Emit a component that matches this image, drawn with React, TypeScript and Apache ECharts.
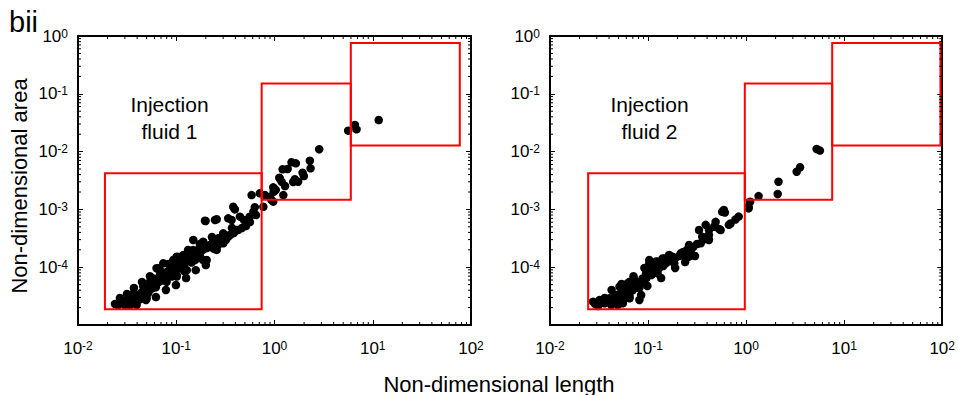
import React, { useEffect, useRef } from "react";
import * as echarts from "echarts";

const FONT = '"Liberation Sans", Arial, Helvetica, sans-serif';

const X_MIN = 0.01;
const X_MAX = 100;
const Y_MIN = 1e-5;
const Y_MAX = 1;

const PANEL_TITLES = ["Injection\nfluid 1", "Injection\nfluid 2"];
const X_AXIS_NAME = "Non-dimensional length";
const Y_AXIS_NAME = "Non-dimensional area";
const FIGURE_TAG = "bii";

const MINOR_MULT = [2, 3, 4, 5, 6, 7, 8, 9];
const X_DECADES = [0.01, 0.1, 1, 10];
const Y_DECADES = [1e-5, 1e-4, 1e-3, 1e-2, 1e-1];

// [x1, y1, x2, y2]
const BOXES_1 = [
  [0.0188, 1.87e-5, 0.74, 0.00421],
  [0.74, 0.00147, 5.98, 0.15],
  [5.98, 0.0127, 76.9, 0.757],
];
const BOXES_2 = [
  [0.0245, 1.87e-5, 0.97, 0.00421],
  [0.97, 0.00147, 7.55, 0.15],
  [7.55, 0.0127, 96, 0.757],
];

const FLUID1 = [
  [11.5, 0.0352], [6.58, 0.0289], [6.84, 0.0243], [5.62, 0.023], [2.85, 0.011],
  [1.49, 0.00653], [1.65, 0.00627], [2.29, 0.00696], [2.33, 0.00514], [1.21, 0.00494],
  [1.36, 0.005], [1.93, 0.00431], [1.99, 0.00378], [1.61, 0.00332], [1.55, 0.00298],
  [1.12, 0.00353], [1.18, 0.00301], [1.28, 0.00254], [0.97, 0.00241], [1.03, 0.00217],
  [1.23, 0.00177], [0.9, 0.00166], [0.8, 0.00177], [0.585, 0.00177], [0.71, 0.0019],
  [0.97, 0.00136], [0.77, 0.00111], [0.63, 0.00109],
  [1.74, 0.00301], [0.99, 0.00232], [0.93, 0.00146], [0.61, 0.000912], [0.56, 0.000748],
  [0.445, 0.000748], [0.395, 0.001], [0.366, 0.000656], [0.338, 0.000701], [0.411, 0.00044],
  [0.258, 0.000674], [0.196, 0.000637], [0.301, 0.000385], [0.267, 0.000316], [0.338, 0.000337],
  [0.238, 0.000276], [0.188, 0.000276], [0.149, 0.000296], [0.22, 0.000226], [0.167, 0.000199],
  [0.138, 0.000185], [0.118, 0.000163], [0.105, 0.000148],
  [0.0238, 2.31e-5], [0.0267, 2.53e-5], [0.03, 2.22e-5], [0.0338, 2.22e-5], [0.0395, 2.22e-5],
  [0.0325, 2.9e-5], [0.0366, 3.53e-5], [0.0428, 3.3e-5], [0.0462, 4.6e-5], [0.0519, 4.0e-5],
  [0.054, 5.6e-5], [0.0583, 6.4e-5], [0.0656, 9.6e-5], [0.0682, 7.3e-5], [0.0767, 7.8e-5],
  [0.0863, 8.9e-5], [0.101, 6.9e-5], [0.109, 1.02e-4], [0.118, 1.25e-4], [0.132, 1.63e-4],
  [0.155, 1.33e-4], [0.174, 1.99e-4], [0.204, 1.33e-4], [0.22, 2.42e-4], [0.258, 1.99e-4],
  [0.301, 2.59e-4], [0.041, 2.7e-5], [0.05, 2.9e-5], [0.0607, 4.9e-5], [0.0798, 5.6e-5],
  [0.0897, 6.9e-5], [0.0738, 1.17e-4], [0.0933, 1.33e-4], [0.128, 8.9e-5],
  [0.199, 6.3e-4], [0.248, 6.56e-4], [0.38, 1.11e-3], [0.98, 2.02e-3], [0.063, 9.6e-5],
  [0.101, 1.52e-4], [0.188, 1.33e-4], [0.122, 8.4e-5], [0.101, 7.3e-5], [0.149, 1.99e-4],
  [0.279, 2.96e-4], [1.13, 3.45e-3],
  [0.0281, 2.4e-5], [0.0315, 2.71e-5], [0.0354, 2.82e-5], [0.038, 3.18e-5], [0.0408, 3.05e-5],
  [0.0438, 3.58e-5], [0.0469, 3.72e-5], [0.0503, 4.37e-5], [0.054, 4.2e-5], [0.0566, 5.12e-5],
  [0.0607, 5.33e-5], [0.0637, 6.0e-5], [0.0682, 6.25e-5], [0.0716, 7.0e-5], [0.0767, 6.8e-5],
  [0.0804, 8.3e-5], [0.0863, 7.9e-5], [0.0904, 9.7e-5], [0.097, 8.9e-5], [0.104, 1.09e-4],
  [0.109, 1.23e-4], [0.117, 1.14e-4], [0.126, 1.33e-4], [0.138, 1.44e-4], [0.148, 1.56e-4],
  [0.162, 1.69e-4], [0.174, 1.63e-4], [0.187, 1.99e-4], [0.205, 2.15e-4], [0.225, 2.23e-4],
  [0.242, 2.07e-4], [0.265, 2.42e-4], [0.292, 2.84e-4], [0.32, 2.96e-4], [0.352, 3.6e-4],
  [0.386, 3.91e-4], [0.425, 4.4e-4], [0.466, 4.77e-4], [0.512, 5.16e-4], [0.562, 6.05e-4],
  [0.489, 6.56e-4], [0.647, 8.0e-4], [0.369, 4.77e-4], [0.231, 3.33e-4], [0.174, 2.52e-4],
  [0.132, 1.99e-4], [0.104, 1.5e-4], [0.0824, 1.14e-4], [0.0682, 8.9e-5], [0.054, 7.0e-5],
  [0.0448, 5.55e-5], [0.0371, 4.37e-5], [0.0315, 3.44e-5], [0.0267, 2.93e-5], [0.0492, 2.71e-5],
  [0.0621, 3.05e-5], [0.0785, 4.04e-5], [0.0993, 4.92e-5], [0.126, 6.5e-5], [0.158, 8.9e-5],
  [0.2, 1.09e-4],
  [0.0255, 2.2e-5], [0.029, 2.6e-5], [0.033, 2.5e-5], [0.036, 2.4e-5], [0.039, 2.6e-5],
  [0.043, 2.8e-5], [0.045, 3.1e-5], [0.048, 3.4e-5], [0.052, 3.6e-5], [0.057, 4.3e-5],
  [0.062, 4.5e-5], [0.066, 5.5e-5], [0.071, 5.9e-5], [0.075, 6.3e-5], [0.085, 7.4e-5],
  [0.094, 8.1e-5], [0.113, 9.5e-5], [0.12, 1.05e-4], [0.143, 1.2e-4], [0.168, 1.45e-4],
];

const FLUID2 = [
  [5.66, 0.0104], [5.24, 0.0111], [3.55, 0.00535], [3.28, 0.00449], [2.14, 0.00301],
  [2.1, 0.00185], [1.34, 0.0017], [1.1, 0.00136], [1.06, 0.00104], [0.84, 0.00075],
  [0.78, 0.00067], [0.593, 0.00098], [0.607, 0.00088], [0.667, 0.00054], [0.55, 0.00044],
  [0.489, 0.00061], [0.47, 0.0005], [0.387, 0.00054], [0.418, 0.00044], [0.331, 0.00044],
  [0.357, 0.000337], [0.344, 0.000259], [0.418, 0.000296], [0.262, 0.000226], [0.273, 0.000174],
  [0.224, 0.000163], [0.178, 0.000152], [0.146, 0.000142], [0.12, 0.000125],
  [0.0275, 2.53e-5], [0.0309, 2.13e-5], [0.036, 2.37e-5], [0.0421, 2.22e-5], [0.0492, 2.22e-5],
  [0.0553, 2.37e-5], [0.0406, 2.9e-5], [0.0475, 3.3e-5], [0.0512, 4.6e-5], [0.062, 5.3e-5],
  [0.0575, 3.5e-5], [0.0727, 6.0e-5], [0.0698, 4.0e-5], [0.085, 3.3e-5], [0.0918, 5.3e-5],
  [0.0955, 7.8e-5], [0.103, 1.17e-4], [0.116, 1.02e-4], [0.125, 7.8e-5], [0.141, 1.42e-4],
  [0.164, 1.63e-4], [0.185, 1.17e-4], [0.216, 1.74e-4], [0.262, 2.42e-4], [0.283, 1.63e-4],
  [0.0347, 2.7e-5], [0.0456, 2.7e-5], [0.0532, 3.1e-5], [0.0785, 4.6e-5], [0.0647, 2.9e-5],
  [0.099, 1.0e-4], [0.065, 5.6e-5], [0.125, 1.25e-4], [0.103, 1.33e-4], [0.178, 1.33e-4],
  [0.262, 1.52e-4], [0.418, 3.6e-4], [0.693, 5.7e-4], [1.06, 1.11e-3], [0.57, 9.1e-4],
  [0.53, 4.6e-4],
  [0.0321, 2.71e-5], [0.0361, 2.93e-5], [0.0406, 2.5e-5], [0.0456, 3.18e-5], [0.0512, 3.44e-5],
  [0.0575, 4.04e-5], [0.0617, 3.72e-5], [0.0677, 4.73e-5], [0.0743, 5.12e-5], [0.0816, 4.37e-5],
  [0.0875, 6.0e-5], [0.0962, 6.5e-5], [0.108, 7.3e-5], [0.116, 8.9e-5], [0.13, 9.7e-5],
  [0.143, 1.05e-4], [0.157, 1.23e-4], [0.172, 1.33e-4], [0.189, 1.44e-4], [0.208, 1.56e-4],
  [0.228, 1.83e-4], [0.25, 1.99e-4], [0.288, 2.23e-4], [0.316, 2.52e-4], [0.363, 2.96e-4],
  [0.0425, 4.04e-5], [0.0536, 5.12e-5], [0.071, 7.0e-5], [0.0918, 9.7e-5], [0.0489, 2.71e-5],
  [0.0647, 3.18e-5], [0.0984, 4.73e-5], [0.136, 6.5e-5], [0.189, 9.7e-5], [0.239, 1.23e-4],
  [0.301, 1.56e-4], [0.0816, 2.71e-5],
  [0.029, 2.3e-5], [0.033, 2.4e-5], [0.038, 2.6e-5], [0.044, 2.5e-5], [0.052, 2.6e-5],
  [0.058, 2.9e-5], [0.06, 3.3e-5], [0.066, 4.2e-5], [0.074, 4.4e-5], [0.079, 5.4e-5],
  [0.088, 6.4e-5], [0.1, 8.2e-5], [0.11, 8.4e-5], [0.123, 9.8e-5], [0.15, 1.15e-4],
  [0.165, 1.3e-4],
];

const PANELS = [
  { data: FLUID1, boxes: BOXES_1, title: PANEL_TITLES[0] },
  { data: FLUID2, boxes: BOXES_2, title: PANEL_TITLES[1] },
];

const GRIDS = [
  { left: 78, top: 36, width: 393, height: 289 },
  { left: 550, top: 36, width: 394, height: 289 },
];

const TITLE_POS = [
  { x: 169.5, y: 118 },
  { x: 649.5, y: 118 },
];

const MINOR_X = X_DECADES.flatMap((d) => MINOR_MULT.map((m) => +(m * d).toPrecision(3)));
const MINOR_Y = Y_DECADES.flatMap((d) => MINOR_MULT.map((m) => +(m * d).toPrecision(3)));

function expLabel(v: number, skipBottom: boolean) {
  const e = Math.round(Math.log10(v));
  if (skipBottom && e === -5) return "";
  return `{b|10}{s|${e}}`;
}

const RICH = {
  b: { fontSize: 17, fontFamily: FONT, color: "#000" },
  s: { fontSize: 12, fontFamily: FONT, color: "#000", verticalAlign: "top" },
};

export default function App() {
  const ref = useRef<HTMLDivElement>(null);

  useEffect(() => {
    if (!ref.current) return;
    const chart = echarts.init(ref.current, undefined, { renderer: "svg" });

    const xAxes: any[] = [];
    const yAxes: any[] = [];
    const series: any[] = [];

    const axisLine = { show: true, onZero: false, lineStyle: { color: "#000", width: 2 } };
    const axisTick = { show: true, inside: true, length: 5, lineStyle: { color: "#000", width: 1 } };

    PANELS.forEach((p, i) => {
      xAxes.push({
        type: "log", logBase: 10, min: X_MIN, max: X_MAX, gridIndex: i, position: "bottom",
        axisLine, axisTick, splitLine: { show: false },
        axisLabel: { margin: 15, fontSize: 17, formatter: (v: number) => expLabel(v, false), rich: RICH },
      });
      xAxes.push({
        type: "log", logBase: 10, min: X_MIN, max: X_MAX, gridIndex: i, position: "top",
        axisLine, axisTick, splitLine: { show: false }, axisLabel: { show: false },
      });
      yAxes.push({
        type: "log", logBase: 10, min: Y_MIN, max: Y_MAX, gridIndex: i, position: "left",
        axisLine, axisTick, splitLine: { show: false },
        axisLabel: { margin: 10, fontSize: 17, formatter: (v: number) => expLabel(v, true), rich: RICH },
      });
      yAxes.push({
        type: "log", logBase: 10, min: Y_MIN, max: Y_MAX, gridIndex: i, position: "right",
        axisLine, axisTick, splitLine: { show: false }, axisLabel: { show: false },
      });

      const xi = i * 2;
      const yi = i * 2;

      series.push({
        type: "scatter",
        xAxisIndex: xi,
        yAxisIndex: yi,
        data: p.data,
        symbol: "circle",
        symbolSize: 8.5,
        itemStyle: { color: "#000", opacity: 1 },
        z: 2,
        silent: true,
      });

      series.push({
        type: "custom",
        xAxisIndex: xi,
        yAxisIndex: yi,
        data: p.boxes,
        encode: { x: [0, 2], y: [1, 3] },
        clip: false,
        z: 4,
        silent: true,
        renderItem: (_params: any, api: any) => {
          const a = api.coord([api.value(0), api.value(3)]);
          const b = api.coord([api.value(2), api.value(1)]);
          return {
            type: "rect",
            shape: { x: a[0], y: a[1], width: b[0] - a[0], height: b[1] - a[1] },
            style: { fill: "none", stroke: "#ff0000", lineWidth: 2 },
          };
        },
      });

      series.push({
        type: "custom",
        xAxisIndex: xi,
        yAxisIndex: yi,
        data: MINOR_X.map((v) => [v, Y_MIN]),
        clip: false,
        z: 5,
        silent: true,
        renderItem: (_params: any, api: any) => {
          const v = api.value(0);
          const b = api.coord([v, Y_MIN]);
          const t = api.coord([v, Y_MAX]);
          const st = { stroke: "#000", lineWidth: 1 };
          return {
            type: "group",
            children: [
              { type: "line", shape: { x1: b[0], y1: b[1], x2: b[0], y2: b[1] - 3 }, style: st },
              { type: "line", shape: { x1: t[0], y1: t[1], x2: t[0], y2: t[1] + 3 }, style: st },
            ],
          };
        },
      });

      series.push({
        type: "custom",
        xAxisIndex: xi,
        yAxisIndex: yi,
        data: MINOR_Y.map((v) => [X_MIN, v]),
        clip: false,
        z: 5,
        silent: true,
        renderItem: (_params: any, api: any) => {
          const v = api.value(1);
          const l = api.coord([X_MIN, v]);
          const r = api.coord([X_MAX, v]);
          const st = { stroke: "#000", lineWidth: 1 };
          return {
            type: "group",
            children: [
              { type: "line", shape: { x1: l[0], y1: l[1], x2: l[0] + 3, y2: l[1] }, style: st },
              { type: "line", shape: { x1: r[0], y1: r[1], x2: r[0] - 3, y2: r[1] }, style: st },
            ],
          };
        },
      });
    });

    const graphic: any[] = [
      {
        type: "text", x: 9, y: 22,
        style: { text: FIGURE_TAG, font: `29px ${FONT}`, fill: "#000", textAlign: "left", textVerticalAlign: "middle" },
      },
      {
        type: "text", x: 499, y: 384,
        style: { text: X_AXIS_NAME, font: `22px ${FONT}`, fill: "#000", textAlign: "center", textVerticalAlign: "middle" },
      },
      {
        type: "text", x: 19, y: 186, rotation: Math.PI / 2,
        style: { text: Y_AXIS_NAME, font: `22px ${FONT}`, fill: "#000", textAlign: "center", textVerticalAlign: "middle" },
      },
    ];
    PANELS.forEach((p, i) => {
      graphic.push({
        type: "text", x: TITLE_POS[i].x, y: TITLE_POS[i].y,
        style: {
          text: p.title, font: `21px ${FONT}`, fill: "#000", lineHeight: 27,
          textAlign: "center", textVerticalAlign: "middle",
        },
      });
    });

    chart.setOption({
      animation: false,
      backgroundColor: "#fff",
      grid: GRIDS,
      xAxis: xAxes,
      yAxis: yAxes,
      series,
      graphic,
    });

    return () => chart.dispose();
  }, []);

  return (
    <div
      ref={ref}
      style={{ position: "absolute", left: 0, top: 0, width: 958, height: 395 }}
    />
  );
}
